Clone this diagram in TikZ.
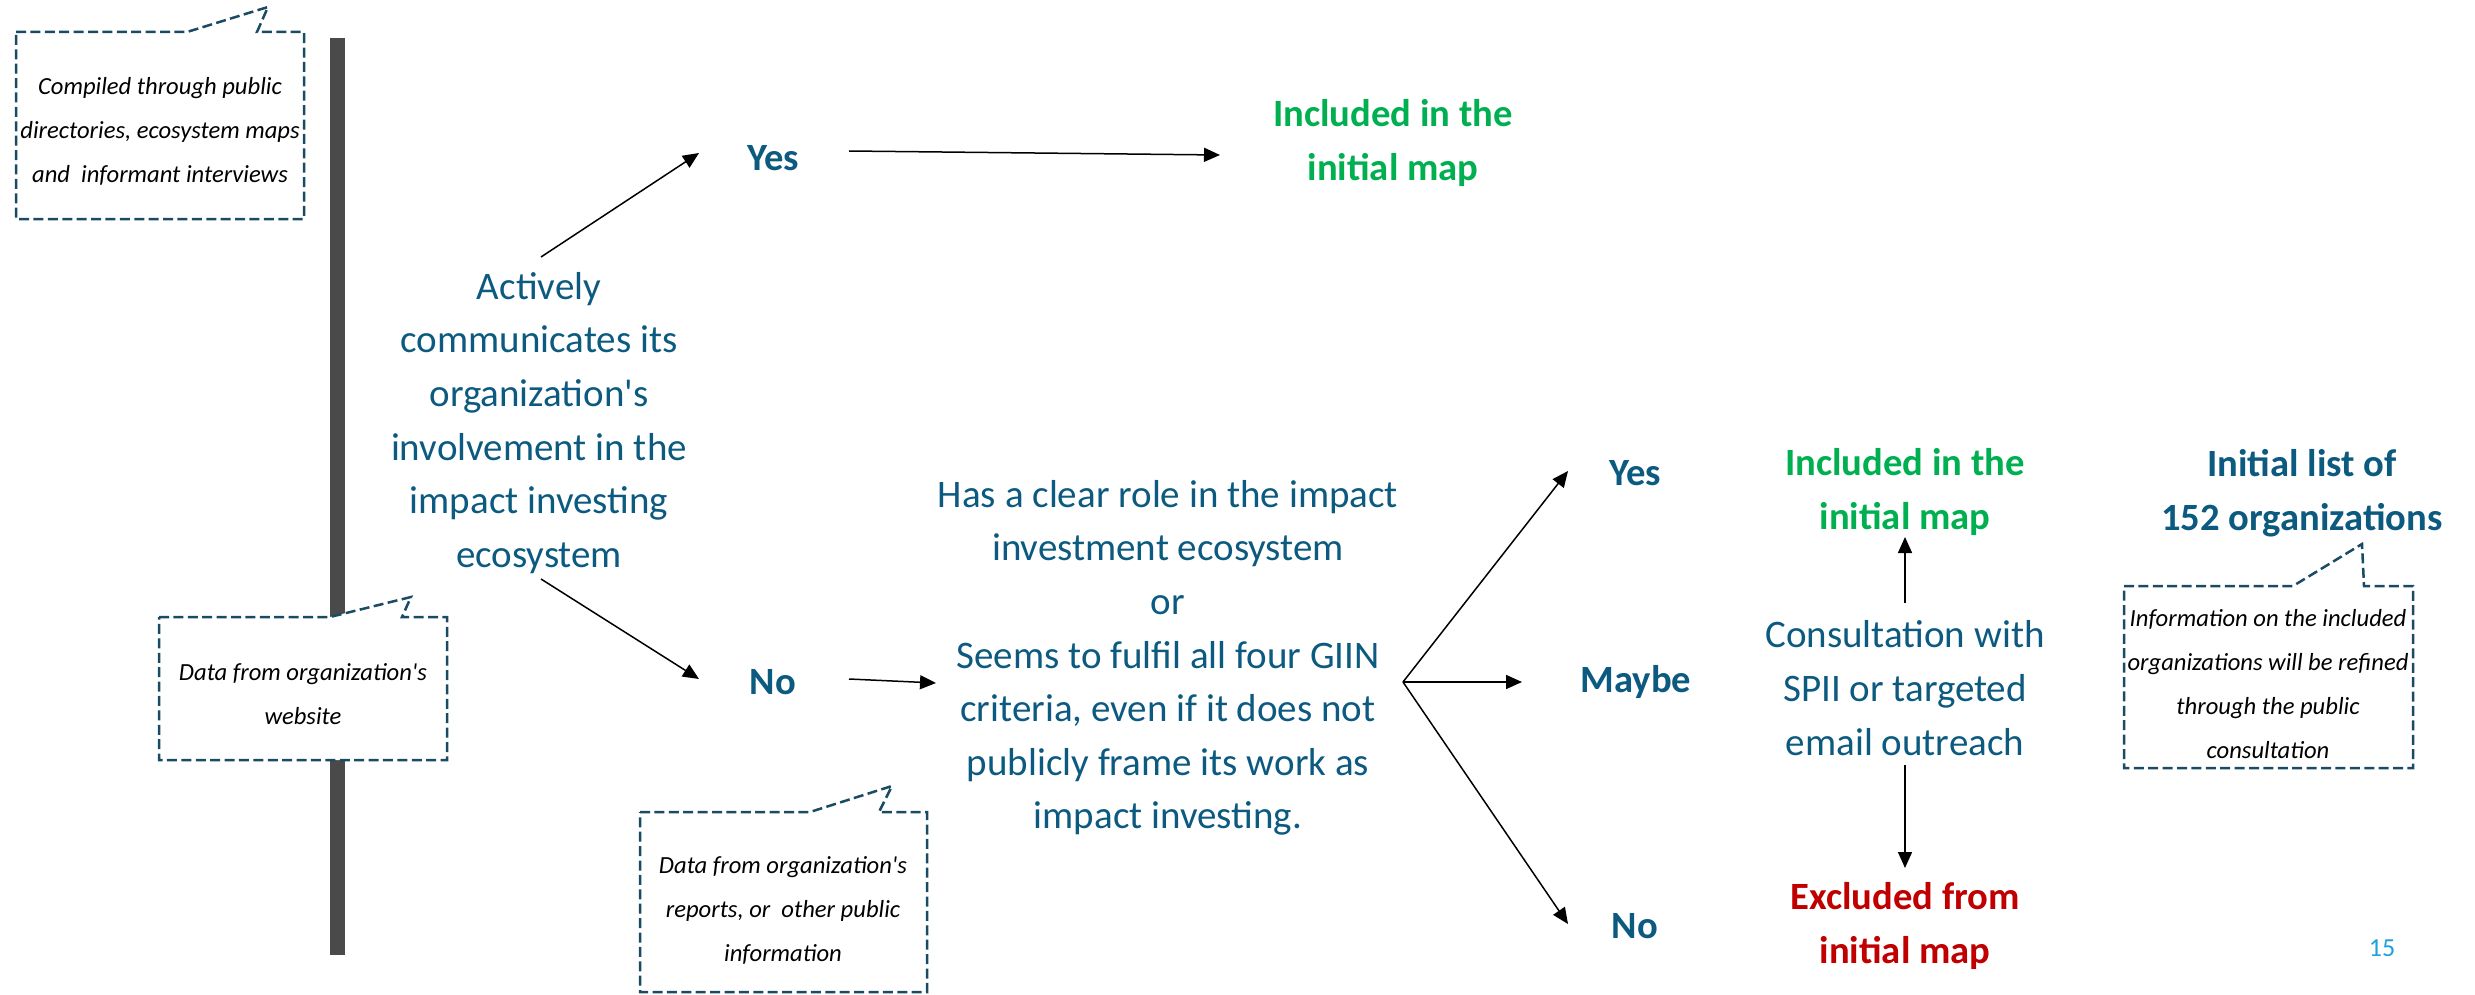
\documentclass[tikz,border=0pt]{standalone}
\usepackage{fontspec}
\setmainfont{Carlito}[Ligatures=TeXOff]
\usetikzlibrary{arrows.meta}
\definecolor{tblue}{HTML}{0C5A80}
\definecolor{cbord}{HTML}{1A4B64}
\definecolor{tgreen}{HTML}{00B050}
\definecolor{tred}{HTML}{C00000}
\definecolor{bargray}{HTML}{4A4A4A}
\definecolor{pnum}{HTML}{1BA1DB}
\begin{document}
\begin{tikzpicture}[x=0.5pt,y=-0.5pt,
  maintext/.style={inner sep=0pt,align=center,text=tblue,font=\fontsize{19.5}{26.8}\selectfont},
  boldtext/.style={inner sep=0pt,align=center,text=tblue,font=\fontsize{19.3}{26.8}\selectfont\bfseries},
  greentext/.style={boldtext,text=tgreen},
  redtext/.style={boldtext,text=tred},
  notetext/.style={inner sep=0pt,align=center,text=black,font=\fontsize{12.3}{22}\selectfont\itshape},
  callout/.style={draw=cbord,fill=white,line width=1.25pt,dash pattern=on 5pt off 2.2pt},
  arr/.style={draw=black,line width=0.75pt,-{Triangle[length=8pt,width=7pt]}}
]
\useasboundingbox (0,0) rectangle (2475,995);

% vertical gray bar
\fill[bargray] (330,38) rectangle (345,955);

% callouts
\draw[callout] (16,32) -- (187,32) -- (268,7) -- (257,32) -- (304,32) -- (304,219) -- (16,219) -- cycle;
\node[notetext] (n1) at (160,131) {Compiled through public\\directories, ecosystem maps\\and~~informant interviews};

\draw[callout] (159,617) -- (330,617) -- (411,597) -- (402,617) -- (447,617) -- (447,760) -- (159,760) -- cycle;
\node[notetext] (n2) at (303,694) {Data from organization's\\website};

\draw[callout] (640,812) -- (810,812) -- (892,786) -- (879,812) -- (927,812) -- (927,992) -- (640,992) -- cycle;
\node[notetext] (n3) at (783,910) {Data from organization's\\reports, or~~other public\\information};

\draw[callout] (2124,586) -- (2293,586) -- (2362,544) -- (2364,586) -- (2413,586) -- (2413,768) -- (2124,768) -- cycle;
\node[notetext] (n4) at (2268,684) {Information on the included\\organizations will be refined\\through the public\\consultation};

% main texts
\node[maintext] (act) at (539,423) {Actively\\communicates its\\organization's\\involvement in the\\impact investing\\ecosystem};
\node[boldtext] (yes1) at (773,158) {Yes};
\node[greentext] (inc1) at (1393,143) {Included in the\\initial map};
\node[boldtext] (no1) at (773,682) {No};
\node[maintext] (crit) at (1168,658) {Has a clear role in the impact\\investment ecosystem\\or\\Seems to fulfil all four GIIN\\criteria, even if it does not\\publicly frame its work as\\impact investing.};
\node[boldtext] (yes2) at (1635,473) {Yes};
\node[boldtext] (maybe) at (1636,682) {Maybe};
\node[boldtext] (no2) at (1635,926) {No};
\node[greentext] (inc2) at (1905,492) {Included in the\\initial map};
\node[maintext] (cons) at (1905,688) {Consultation with\\SPII or targeted\\email outreach};
\node[redtext] (exc) at (1905,926) {Excluded from\\initial map};
\node[boldtext] (init) at (2302,493) {Initial list of\\152 organizations};
\node[inner sep=0pt,text=pnum,font=\fontsize{13}{15}\selectfont] (pg) at (2382,948) {15};

% connector end points
\coordinate (actT) at (541,257);
\coordinate (actB) at (541,579);
\coordinate (yes1W) at (699,153);
\coordinate (yes1E) at (849,151);
\coordinate (inc1W) at (1220,155);
\coordinate (no1W) at (699,679);
\coordinate (no1E) at (849,679);
\coordinate (critW) at (936,683);
\coordinate (critE) at (1403,682);
\coordinate (yes2W) at (1568,471);
\coordinate (maybeW) at (1522,682);
\coordinate (no2W) at (1568,924);
\coordinate (consN) at (1905,603);
\coordinate (inc2S) at (1905,537);
\coordinate (consS) at (1905,765);
\coordinate (excN) at (1905,868);

\draw[arr] (actT) -- (yes1W);
\draw[arr] (yes1E) -- (inc1W);
\draw[arr] (actB) -- (no1W);
\draw[arr] (no1E) -- (critW);
\draw[arr] (critE) -- (yes2W);
\draw[arr] (critE) -- (maybeW);
\draw[arr] (critE) -- (no2W);
\draw[arr] (consN) -- (inc2S);
\draw[arr] (consS) -- (excN);
\end{tikzpicture}
\end{document}
